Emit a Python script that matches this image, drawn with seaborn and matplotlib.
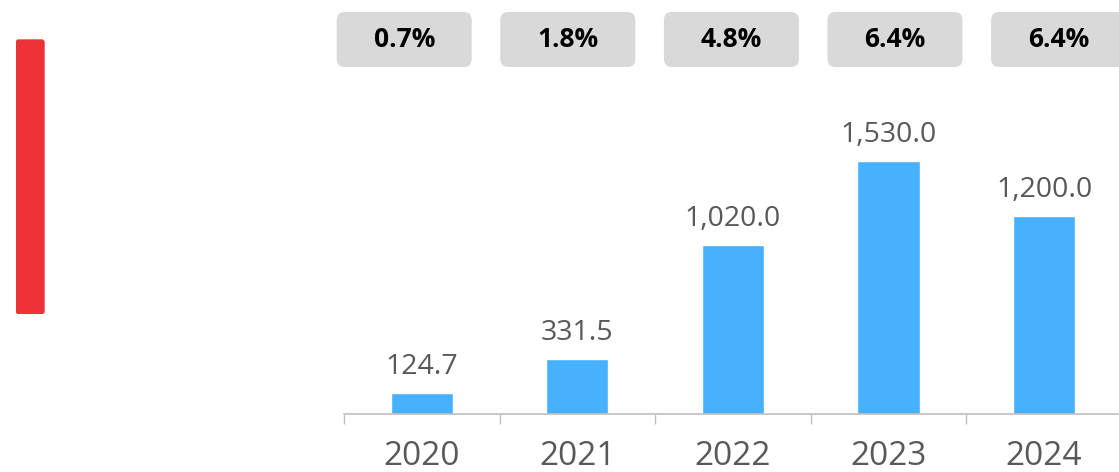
import pandas as pd
import matplotlib.pyplot as plt
import seaborn as sns
import numpy as np
from matplotlib.patches import FancyBboxPatch

# Data
years = ['2020', '2021', '2022', '2023', '2024']
values = [124.7, 331.5, 1020.0, 1530.0, 1200.0]
rates = ['0.7%', '1.8%', '4.8%', '6.4%', '6.4%']

df = pd.DataFrame({'year': years, 'value': values})

sns.set_style("white")
plt.rcParams['font.family'] = ['Open Sans', 'DejaVu Sans']

W, H = 1119, 472
fig = plt.figure(figsize=(W / 100, H / 100), dpi=100)

bar_color = '#47b0ff'
text_gray = '#595959'
axis_gray = '#bfbfbf'

step = 155.6
left_px, base_px, top_px = 343.9, 413.7, 80
ax = fig.add_axes([left_px / W, (H - base_px) / H, 5 * step / W, (base_px - top_px) / H])
sns.barplot(data=df, x='year', y='value', color=bar_color, width=0.4,
            saturation=1, ax=ax)
ax.set_xlim(-0.5, 4.5)
ax.set_ylim(0, (base_px - top_px) / (252.4 / 1530))
ax.set_xlabel('')
ax.set_ylabel('')
ax.set_yticks([])
for side in ['top', 'right', 'left']:
    ax.spines[side].set_visible(False)
ax.spines['bottom'].set_color(axis_gray)
ax.spines['bottom'].set_linewidth(1.2)
ax.tick_params(axis='x', which='major', bottom=True, length=0, pad=19,
               labelsize=24, labelcolor=text_gray)
ax.set_xticks(np.arange(-0.5, 5.0, 1.0), minor=True)
ax.tick_params(axis='x', which='minor', bottom=True, length=7.2, width=1.0,
               color=axis_gray, direction='out')
ax.set_facecolor('none')

for i, v in enumerate(values):
    ax.annotate(f'{v:,.1f}', xy=(i, v), xytext=(0, 13.7), textcoords='offset points',
                ha='center', va='baseline', fontsize=20.5, color=text_gray)

# rate badges row
rstep = 163.6
rax = fig.add_axes([(404.2 - rstep / 2) / W, (H - 67) / H, 5 * rstep / W, 55 / H])
rax.set_xlim(-0.5, 4.5)
rax.set_ylim(0, 55 / rstep)
rax.axis('off')
bw, bh = 135 / rstep, 55 / rstep
for i, r in enumerate(rates):
    rax.add_patch(FancyBboxPatch((i - bw / 2, 0), bw, bh,
                                 boxstyle=f'round,pad=0,rounding_size={8 / rstep}',
                                 facecolor='#d9d9d9', edgecolor='none', clip_on=False))
    rax.text(i, bh / 2, r, ha='center', va='center', fontsize=19,
             fontweight='bold', color='black')

# red accent bar on the left
sax = fig.add_axes([15.7 / W, (H - 314.3) / H, 29 / W, 275 / H])
sax.set_xlim(0, 29)
sax.set_ylim(0, 275)
sax.axis('off')
sax.add_patch(FancyBboxPatch((0, 0), 29, 275, boxstyle='round,pad=0,rounding_size=3',
                             facecolor='#ee3338', edgecolor='none'))

fig.savefig('out.png', dpi=100)
